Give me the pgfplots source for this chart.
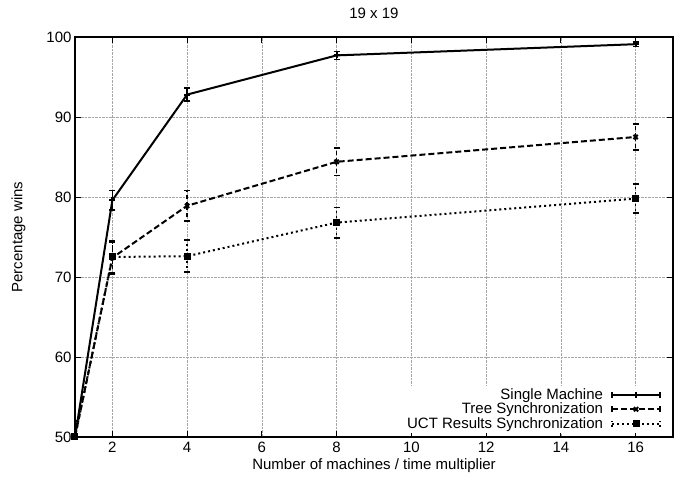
\documentclass[border=0pt]{standalone}
\usepackage{fontspec}
\setmainfont{Liberation Sans}
\usepackage{pgfplots}
\pgfplotsset{compat=1.18}
\begin{document}
\begin{tikzpicture}[x=1pt,y=1pt]
\begin{axis}[
  name=ax,
  scale only axis,
  width=598pt, height=400pt,
  xmin=1, xmax=17, ymin=50, ymax=100,
  xtick={2,4,6,8,10,12,14,16},
  ytick={50,60,70,80,90,100},
  tick align=inside,
  major tick length=6pt,
  grid=major,
  major grid style={densely dotted, gray!70, line width=0.6pt},
  axis line style={line width=1.1pt},
  every tick/.style={black, line width=0.8pt},
  font=\fontsize{15}{18}\selectfont,
  /pgf/number format/assume math mode=true,
  xlabel={Number of machines / time multiplier},
  ylabel={Percentage wins},
  title={19 x 19},
  title style={yshift=9pt},
  xlabel style={yshift=1pt},
  ylabel style={yshift=14pt},
  xticklabel style={yshift=-2pt},
  legend cell align=right,
  legend plot pos=right,
  legend style={at={(rel axis cs:0.982,0.01)}, anchor=south east, draw=none, fill=white, inner sep=1pt, row sep=-2pt, column sep=6pt, font=\fontsize{15}{18}\selectfont},
  legend image code/.code={
    \draw[mark repeat=2,mark phase=2,#1] plot coordinates {(0pt,0pt)(24pt,0pt)(48pt,0pt)};
    \draw[#1,mark=none] (0pt,-3pt)--(0pt,3pt) (48pt,-3pt)--(48pt,3pt);
  },
  every axis plot/.append style={line width=2pt, mark size=3pt},
]
\addplot[black, solid, mark=+, mark options={solid},
  error bars/.cd, y dir=both, y explicit,
  error bar style={line width=1.5pt, solid},
  error mark options={rotate=90, mark size=3pt, solid, line width=1.5pt}]
  coordinates {
  (1,50) +- (0,1.5)
  (2,79.6) +- (0,1.2)
  (4,92.8) +- (0,0.8)
  (8,97.7) +- (0,0.5)
  (16,99.1) +- (0,0.3)
  };
\addlegendentry{Single Machine}
\addplot[black, dash pattern=on 6pt off 3pt, mark=x, mark options={solid},
  error bars/.cd, y dir=both, y explicit,
  error bar style={line width=1.5pt, dash pattern=on 4pt off 3pt},
  error mark options={rotate=90, mark size=3pt, solid, line width=1.5pt}]
  coordinates {
  (1,50) +- (0,2)
  (2,72.4) +- (0,2)
  (4,78.9) +- (0,1.9)
  (8,84.4) +- (0,1.7)
  (16,87.5) +- (0,1.6)
  };
\addlegendentry{Tree Synchronization}
\addplot[black, dash pattern=on 2pt off 3pt, mark=square*, mark size=2.5pt, mark options={solid},
  error bars/.cd, y dir=both, y explicit,
  error bar style={line width=1.5pt, dash pattern=on 2pt off 3pt},
  error mark options={rotate=90, mark size=3pt, solid, line width=1.5pt}]
  coordinates {
  (1,50) +- (0,1.5)
  (2,72.5) +- (0,2)
  (4,72.6) +- (0,2)
  (8,76.8) +- (0,1.9)
  (16,79.8) +- (0,1.8)
  };
\addlegendentry{UCT Results Synchronization}
\end{axis}
\pgfresetboundingbox
\path[use as bounding box] ([shift={(-75pt,-45pt)}]ax.south west) rectangle ([shift={(1pt,37pt)}]ax.north east);
\end{tikzpicture}
\end{document}
